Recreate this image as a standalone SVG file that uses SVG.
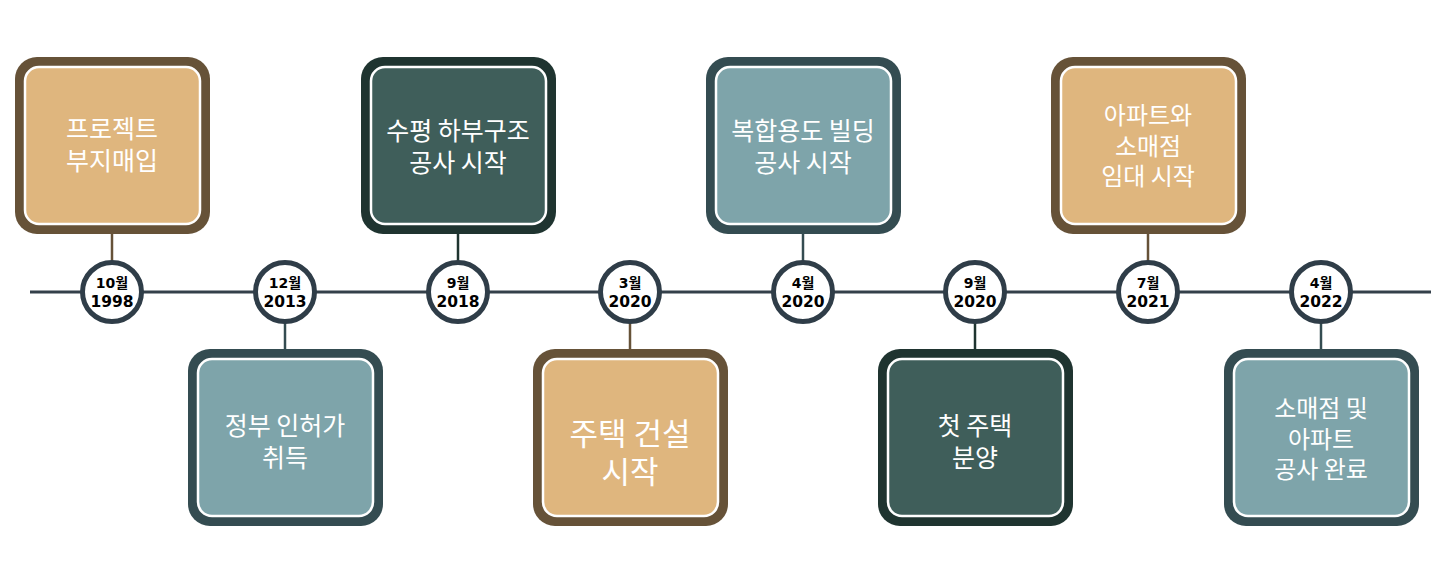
<svg xmlns="http://www.w3.org/2000/svg" width="1431" height="562" viewBox="0 0 1431 562">
<style>
.tan .o{fill:#665238}.tan .i{fill:#dfb67e}
.teal .o{fill:#344c51}.teal .i{fill:#7ea4aa}
.dark .o{fill:#1f3430}.dark .i{fill:#3f5e5a}
.i{stroke:#ffffff;stroke-width:2.5}
.t{font-family:"Noto Sans CJK KR","Noto Sans",sans-serif;font-size:25px;fill:#ffffff;text-anchor:middle}
.s3{font-size:24px}
.big{font-size:31px}
.c{fill:#ffffff;stroke:#2f3d48;stroke-width:5}
.d{font-family:"DejaVu Sans","Noto Sans CJK KR",sans-serif;font-weight:bold;fill:#000000;text-anchor:middle;font-size:15.5px}
.m{font-size:14px}
</style>
<g id="connectors" stroke-width="2.5">
<line x1="30" y1="292" x2="1431" y2="292" stroke="#34404a" stroke-width="3"/>
<line x1="112" y1="233" x2="112" y2="262" stroke="#665238"/>
<line x1="285" y1="323" x2="285" y2="349" stroke="#344c51"/>
<line x1="458" y1="233" x2="458" y2="262" stroke="#1f3430"/>
<line x1="630" y1="323" x2="630" y2="349" stroke="#665238"/>
<line x1="803" y1="233" x2="803" y2="262" stroke="#344c51"/>
<line x1="975" y1="323" x2="975" y2="349" stroke="#1f3430"/>
<line x1="1148" y1="233" x2="1148" y2="262" stroke="#665238"/>
<line x1="1321" y1="323" x2="1321" y2="349" stroke="#344c51"/>
</g>
<g id="card1" class="tan"><rect class="o" x="15" y="57" width="195" height="177" rx="22"/><rect class="i" x="25" y="67" width="175" height="157" rx="14"/><text class="t" x="112" y="138">프로젝트<tspan x="112" dy="32">부지매입</tspan></text></g>
<g id="card2" class="teal"><rect class="o" x="188" y="349" width="195" height="177" rx="22"/><rect class="i" x="198" y="359" width="175" height="157" rx="14"/><text class="t" x="285" y="435">정부 인허가<tspan x="285" dy="32">취득</tspan></text></g>
<g id="card3" class="dark"><rect class="o" x="361" y="57" width="195" height="177" rx="22"/><rect class="i" x="371" y="67" width="175" height="157" rx="14"/><text class="t" x="458" y="140">수평 하부구조<tspan x="458" dy="32">공사 시작</tspan></text></g>
<g id="card4" class="tan"><rect class="o" x="533" y="349" width="195" height="177" rx="22"/><rect class="i" x="543" y="359" width="175" height="157" rx="14"/><text class="t big" x="630" y="445">주택 건설<tspan x="630" dy="38">시작</tspan></text></g>
<g id="card5" class="teal"><rect class="o" x="706" y="57" width="195" height="177" rx="22"/><rect class="i" x="716" y="67" width="175" height="157" rx="14"/><text class="t" x="803" y="140">복합용도 빌딩<tspan x="803" dy="32">공사 시작</tspan></text></g>
<g id="card6" class="dark"><rect class="o" x="878" y="349" width="195" height="177" rx="22"/><rect class="i" x="888" y="359" width="175" height="157" rx="14"/><text class="t" x="975" y="435">첫 주택<tspan x="975" dy="32">분양</tspan></text></g>
<g id="card7" class="tan"><rect class="o" x="1051" y="57" width="195" height="177" rx="22"/><rect class="i" x="1061" y="67" width="175" height="157" rx="14"/><text class="t s3" x="1148" y="124">아파트와<tspan x="1148" dy="31">소매점</tspan><tspan x="1148" dy="30">임대 시작</tspan></text></g>
<g id="card8" class="teal"><rect class="o" x="1224" y="349" width="195" height="177" rx="22"/><rect class="i" x="1234" y="359" width="175" height="157" rx="14"/><text class="t s3" x="1321" y="417">소매점 및<tspan x="1321" dy="31">아파트</tspan><tspan x="1321" dy="30">공사 완료</tspan></text></g>
<g id="date1"><circle class="c" cx="112" cy="292" r="29.5"/><text class="d" x="112" y="288"><tspan class="m">10월</tspan><tspan x="112" dy="19">1998</tspan></text></g>
<g id="date2"><circle class="c" cx="285" cy="292" r="29.5"/><text class="d" x="285" y="288"><tspan class="m">12월</tspan><tspan x="285" dy="19">2013</tspan></text></g>
<g id="date3"><circle class="c" cx="458" cy="292" r="29.5"/><text class="d" x="458" y="288"><tspan class="m">9월</tspan><tspan x="458" dy="19">2018</tspan></text></g>
<g id="date4"><circle class="c" cx="630" cy="292" r="29.5"/><text class="d" x="630" y="288"><tspan class="m">3월</tspan><tspan x="630" dy="19">2020</tspan></text></g>
<g id="date5"><circle class="c" cx="803" cy="292" r="29.5"/><text class="d" x="803" y="288"><tspan class="m">4월</tspan><tspan x="803" dy="19">2020</tspan></text></g>
<g id="date6"><circle class="c" cx="975" cy="292" r="29.5"/><text class="d" x="975" y="288"><tspan class="m">9월</tspan><tspan x="975" dy="19">2020</tspan></text></g>
<g id="date7"><circle class="c" cx="1148" cy="292" r="29.5"/><text class="d" x="1148" y="288"><tspan class="m">7월</tspan><tspan x="1148" dy="19">2021</tspan></text></g>
<g id="date8"><circle class="c" cx="1321" cy="292" r="29.5"/><text class="d" x="1321" y="288"><tspan class="m">4월</tspan><tspan x="1321" dy="19">2022</tspan></text></g>
</svg>
